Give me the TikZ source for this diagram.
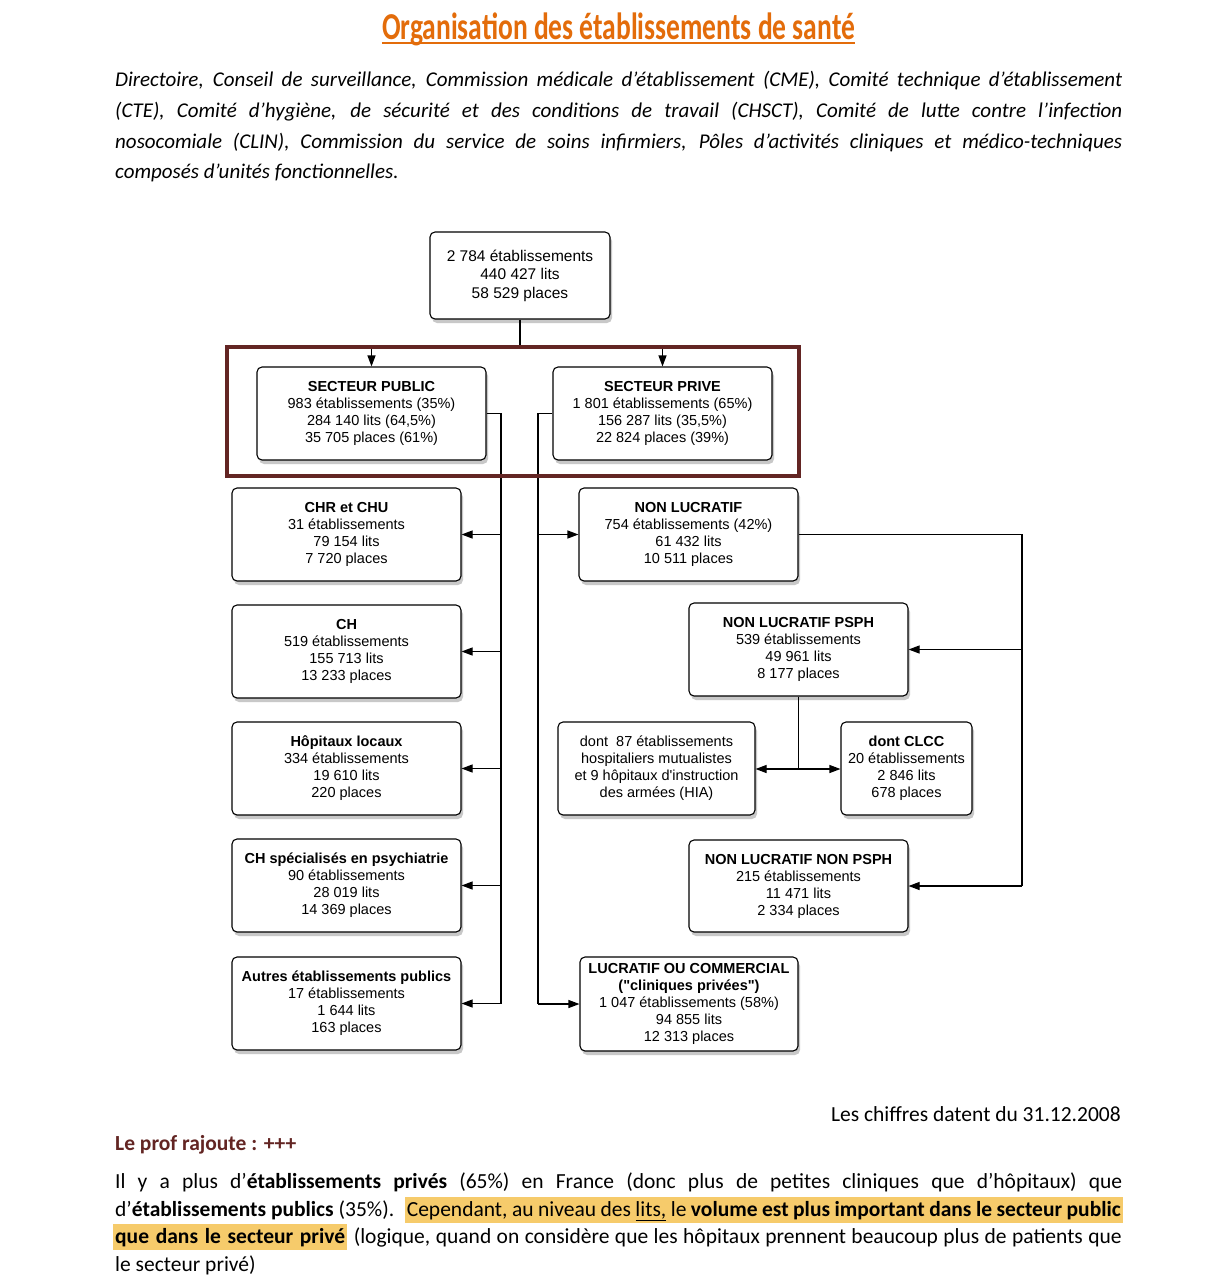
\documentclass[tikz,border=0pt]{standalone}
\usepackage{fontspec}
\usepackage{graphicx}
\usepackage{tikz}
\usetikzlibrary{
    positioning,
    arrows.meta,
    shadows
}
\newfontfamily\diagfont{Liberation Sans}
\newfontfamily\textefont{Carlito}
\definecolor{orangetitre}{RGB}{227,108,10}
\definecolor{bordeaux}{RGB}{99,37,35}
\definecolor{surligne}{RGB}{246,203,107}
\tikzset{
    >={Triangle[length=11pt,width=8pt]},
    boite/.style={
        draw,
        line width=1.1pt,
        rounded corners=5pt,
        fill=white,
        align=center,
        inner sep=0pt,
        minimum height=93pt,
        font=\diagfont\fontsize{14.5}{17}\selectfont,
        drop shadow={shadow xshift=2pt, shadow yshift=-4pt, opacity=0.3, fill=black!70}
    },
    lien/.style={line width=1.1pt},
    ligne/.style={
        anchor=base west,
        inner sep=0pt,
        font=\textefont\fontsize{21.5}{25}\selectfont
    },
    intro/.style={
        ligne,
        font=\textefont\itshape\fontsize{21}{25}\selectfont
    },
    marque/.style={
        fill=surligne,
        inner xsep=2pt,
        inner ysep=3pt,
        text height=16pt,
        text depth=4pt,
        font=\textefont\fontsize{21.5}{25}\selectfont
    }
}

\begin{document}
\begin{tikzpicture}[x=1pt, y=-1pt]

    \useasboundingbox[fill=white] (0,0) rectangle (1223,1285);

    % Titre et introduction
    \node[anchor=base, inner sep=0pt, text=orangetitre] (titre) at (618.5,39)
        {\resizebox{473pt}{\height}{\textefont\bfseries\fontsize{38}{40}\selectfont Organisation des établissements de santé}};
    \draw[orangetitre, line width=2.5pt] ([yshift=-4pt]titre.base west) -- ([yshift=-4pt]titre.base east);

    \node[intro] (intro1) at (115,86)
        {\makebox[1007pt][s]{Directoire, Conseil de surveillance, Commission médicale d’établissement (CME), Comité technique d’établissement}};
    \node[intro] (intro2) at (115,117)
        {\makebox[1007pt][s]{(CTE), Comité d’hygiène, de sécurité et des conditions de travail (CHSCT), Comité de lutte contre l’infection}};
    \node[intro] (intro3) at (115,148)
        {\makebox[1007pt][s]{nosocomiale (CLIN), Commission du service de soins infirmiers, Pôles d’activités cliniques et médico-techniques}};
    \node[intro] (intro4) at (115,178)
        {composés d’unités fonctionnelles.};

    % Boites
    \node[boite, minimum width=180pt, minimum height=87pt, font=\diagfont\fontsize{15.5}{18.5}\selectfont] (total) at (520,275.5)
        {2 784 établissements\\440 427 lits\\58 529 places};

    % Secteur public
    \node[boite, minimum width=229pt] (public) at (371.5,413.5)
        {\textbf{SECTEUR PUBLIC}\\983 établissements (35\%)\\284 140 lits (64,5\%)\\35 705 places (61\%)};
    \node[boite, minimum width=229pt] (chu) at (346.5,534.5)
        {\textbf{CHR et CHU}\\31 établissements\\79 154 lits\\7 720 places};
    \node[boite, minimum width=229pt] (ch) at (346.5,651.5)
        {\textbf{CH}\\519 établissements\\155 713 lits\\13 233 places};
    \node[boite, minimum width=229pt] (locaux) at (346.5,768.5)
        {\textbf{Hôpitaux locaux}\\334 établissements\\19 610 lits\\220 places};
    \node[boite, minimum width=229pt] (psy) at (346.5,885.5)
        {\textbf{CH spécialisés en psychiatrie}\\90 établissements\\28 019 lits\\14 369 places};
    \node[boite, minimum width=229pt] (autres) at (346.5,1003.5)
        {\textbf{Autres établissements publics}\\17 établissements\\1 644 lits\\163 places};

    % Secteur prive
    \node[boite, minimum width=219pt] (prive) at (662.5,413.5)
        {\textbf{SECTEUR PRIVE}\\1 801 établissements (65\%)\\156 287 lits (35,5\%)\\22 824 places (39\%)};
    \node[boite, minimum width=219pt] (nonluc) at (688.5,534.5)
        {\textbf{NON LUCRATIF}\\754 établissements (42\%)\\61 432 lits\\10 511 places};
    \node[boite, minimum width=219pt] (psph) at (798.5,649.5)
        {\textbf{NON LUCRATIF PSPH}\\539 établissements\\49 961 lits\\8 177 places};
    \node[boite, minimum width=197pt] (mutu) at (656.5,768.5)
        {dont~~87 établissements\\hospitaliers mutualistes\\et 9 hôpitaux d'instruction\\des armées (HIA)};
    \node[boite, minimum width=131pt] (clcc) at (906.5,768.5)
        {\textbf{dont CLCC}\\20 établissements\\2 846 lits\\678 places};
    \node[boite, minimum width=219pt, minimum height=92pt] (nonpsph) at (798.5,886)
        {\textbf{NON LUCRATIF NON PSPH}\\215 établissements\\11 471 lits\\2 334 places};
    \node[boite, minimum width=218pt, minimum height=94pt] (lucratif) at (689,1004)
        {\textbf{LUCRATIF OU COMMERCIAL}\\\textbf{("cliniques privées")}\\1 047 établissements (58\%)\\94 855 lits\\12 313 places};

    % Points de passage
    \coordinate (partage) at (520,346);
    \coordinate (buspub) at (501,413.5);
    \coordinate (buspriv) at (538,413.5);
    \coordinate (busnl) at (1022,534.5);
    \coordinate (buspsph) at (798.5,769);

    % Liaisons
    \draw[lien] (total) -- (partage);
    \draw[lien, ->] (partage) -| (public);
    \draw[lien, ->] (partage) -| (prive);

    \draw[lien] (public.east |- buspub) -- (buspub) -- (buspub |- autres);
    \foreach \cible in {chu, ch, locaux, psy, autres}
        \draw[lien, ->] (buspub |- \cible) -- (\cible.east);

    \draw[lien] (prive.west |- buspriv) -- (buspriv) -- (buspriv |- lucratif);
    \draw[lien, ->] (buspriv |- nonluc) -- (nonluc.west);
    \draw[lien, ->] (buspriv |- lucratif) -- (lucratif.west);

    \draw[lien] (nonluc.east) -- (busnl) -- (busnl |- nonpsph);
    \draw[lien, ->] (busnl |- psph) -- (psph.east);
    \draw[lien, ->] (busnl |- nonpsph) -- (nonpsph.east);

    \draw[lien] (psph) -- (buspsph);
    \draw[lien, ->] (buspsph) -- (mutu.east |- buspsph);
    \draw[lien, ->] (buspsph) -- (clcc.west |- buspsph);

    % Cadre des deux secteurs
    \draw[bordeaux, line width=4pt] (227,347) rectangle (799,476);

    % Texte du bas
    \node[ligne, anchor=base east] (date) at (1121,1121)
        {Les chiffres datent du 31.12.2008};
    \node[ligne, text=bordeaux] (prof) at (115,1150)
        {\textbf{Le prof rajoute : +++}};

    \node[ligne] (com1) at (115,1188)
        {\makebox[1007pt][s]{Il y a plus d’\textbf{établissements privés} (65\%) en France (donc plus de petites cliniques que d’hôpitaux) que}};
    \node[ligne] (com2) at (115,1216)
        {d’\textbf{établissements publics} (35\%).};
    \node[marque, anchor=base east] (com2b) at (1123,1216)
        {\makebox[714pt][s]{Cependant, au niveau des \underline{lits,} le \textbf{volume est plus important dans le secteur public}}};
    \node[marque, anchor=base west] (com3) at (113,1243)
        {\makebox[230pt][s]{\textbf{que dans le secteur privé}}};
    \node[ligne, anchor=base east] (com3b) at (1122,1243)
        {\makebox[768pt][s]{(logique, quand on considère que les hôpitaux prennent beaucoup plus de patients que}};
    \node[ligne] (com4) at (115,1271)
        {le secteur privé)};

\end{tikzpicture}
\end{document}
